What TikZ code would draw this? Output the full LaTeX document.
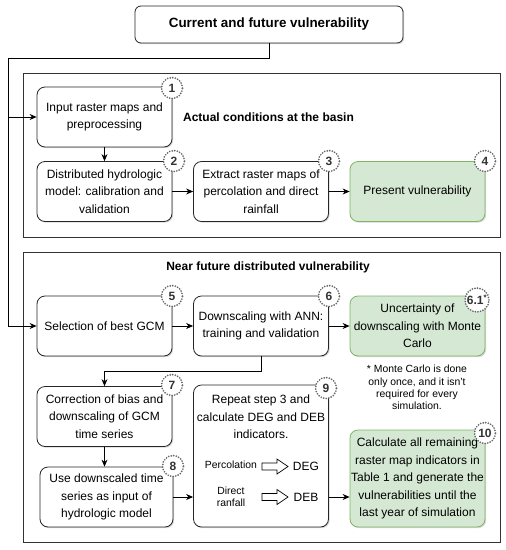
\documentclass[tikz,border=0pt]{standalone}
\usepackage{fontspec}
\setmainfont{Liberation Sans}
\usetikzlibrary{arrows.meta,shadows}

\definecolor{greenfill}{HTML}{D5E8D4}
\definecolor{greenline}{HTML}{82B366}
\definecolor{badgegray}{HTML}{666666}
\definecolor{numgray}{HTML}{333333}

\tikzstyle{panel} = [draw=black!80, line width=0.8pt]
\tikzstyle{line} = [line width=0.8pt]
\tikzstyle{arw} = [-{Stealth[length=7pt,width=6pt]}, line width=0.8pt]
\tikzstyle{stepbox} = [draw=black!85, line width=0.8pt, rounded corners=8pt, fill=white, minimum width=135pt, minimum height=60pt, inner xsep=0pt, align=center, font=\fontsize{12}{17.5}\selectfont, drop shadow={opacity=0.3, shadow xshift=1.2pt, shadow yshift=-1.2pt}]
\tikzstyle{greenbox} = [stepbox, fill=greenfill, draw=greenline]
\tikzstyle{badge} = [circle, draw=badgegray, line width=1.9pt, dash pattern=on 0pt off 2.6pt, line cap=round, fill=white, minimum size=21pt, inner sep=0pt, text=numgray, font=\fontsize{12}{12}\selectfont\bfseries]
\tikzstyle{heading} = [font=\fontsize{12}{14}\selectfont\bfseries]
\tikzstyle{note} = [align=center, font=\fontsize{10.4}{12.4}\selectfont]
\tikzstyle{hollow} = [draw, line width=0.7pt, fill=white, line join=miter]

\begin{document}
\begin{tikzpicture}[x=1pt, y=-1pt]
\useasboundingbox (0,0) rectangle (506,550);
\fill[white] (0,0) rectangle (506,550);

% containers
\draw[panel] (23,73) rectangle (500,237);
\draw[panel] (23,252) rectangle (500,542);

\node[stepbox, minimum width=268pt, minimum height=37pt, rounded corners=6pt, font=\fontsize{13.4}{16}\selectfont\bfseries] (title) at (269,24.5) {Current and future vulnerability};

\node[heading] (actual) at (268.5,117) {Actual conditions at the basin};
\node[heading] (future) at (268,267) {Near future distributed vulnerability};

% actual conditions
\node[stepbox] (b1) at (104.5,117) {Input raster maps and\\preprocessing};
\node[stepbox] (b2) at (104.5,191.5) {Distributed hydrologic\\model: calibration and\\validation};
\node[stepbox] (b3) at (261,191.5) {Extract raster maps of\\percolation and direct\\rainfall};
\node[greenbox] (b4) at (417.5,191.5) {Present vulnerability};

% near future
\node[stepbox] (b5) at (104.5,326) {Selection of best GCM};
\node[stepbox] (b6) at (261,326) {Downscaling with ANN:\\training and validation};
\node[greenbox] (b61) at (417.5,326) {Uncertainty of\\downscaling with Monte\\Carlo};
\node[note] (mcnote) at (417,387.5) {* Monte Carlo is done\\only once, and it isn't\\required for every\\simulation.};
\node[stepbox] (b7) at (104.5,416.5) {Correction of bias and\\downscaling of GCM\\time series};
\node[stepbox, minimum width=133pt] (b8) at (106.5,497) {Use downscaled time\\series as input of\\hydrologic model};
\node[stepbox, minimum height=142pt] (b9) at (261,456) {};
\node[greenbox, minimum height=97pt] (b10) at (417.5,478.5) {Calculate all remaining\\raster map indicators in\\Table 1 and generate the\\vulnerabilities until the\\last year of simulation};

% inside step 9
\node[align=center, font=\fontsize{12}{17.5}\selectfont] (b9txt) at (261,417) {Repeat step 3 and\\calculate DEG and DEB\\indicators.};
\node[font=\fontsize{10.4}{12}\selectfont] (perc) at (231,465) {Percolation};
\node[font=\fontsize{12}{14}\selectfont] (deg) at (306,466.5) {DEG};
\node[align=center, font=\fontsize{10.4}{12.4}\selectfont] (rain) at (231,497) {Direct\\ranfall};
\node[font=\fontsize{12}{14}\selectfont] (deb) at (306,497) {DEB};
\coordinate (ha1) at (262,466.5);
\coordinate (ha2) at (262,497);
\foreach \a in {ha1,ha2}
  \draw[hollow] (\a) ++(0,-3.5) -- ++(15,0) -- ++(0,-4) -- ++(11,7.5) -- ++(-11,7.5) -- ++(0,-4) -- ++(-15,0) -- cycle;

% step numbers
\node[badge] (n1) at (172,88) {1};
\node[badge] (n2) at (174,161) {2};
\node[badge] (n3) at (329,161) {3};
\node[badge] (n4) at (485,161) {4};
\node[badge] (n5) at (172,296) {5};
\node[badge] (n6) at (329,296) {6};
\node[badge, minimum size=24pt] (n61) at (477,300) {6.1\textsuperscript{*}};
\node[badge] (n7) at (172,385) {7};
\node[badge] (n8) at (173,466) {8};
\node[badge] (n9) at (326,388) {9};
\node[badge] (n10) at (485,433) {10};

% connectors
\coordinate (split) at (8,58);
\draw[line] (title.south) |- (split);
\draw[arw] (split) |- (b1.west);
\draw[arw] (split) |- (b5.west);
\draw[arw] (b1.south) -- (b2.north);
\draw[arw] (b2.east) -- (b3.west);
\draw[arw] (b3.east) -- (b4.west);
\draw[arw] (b5.east) -- (b6.west);
\draw[arw] (b6.east) -- (b61.west);
\draw[arw] (b6.south) -- ++(0,15) -| (b7.north);
\draw[arw] (b7.south) -- (b7.south |- b8.north);
\draw[arw] (b8.east) -- (b8.east -| b9.west);
\draw[arw] (b8.east -| b9.east) -- (b8.east -| b10.west);

\end{tikzpicture}
\end{document}
